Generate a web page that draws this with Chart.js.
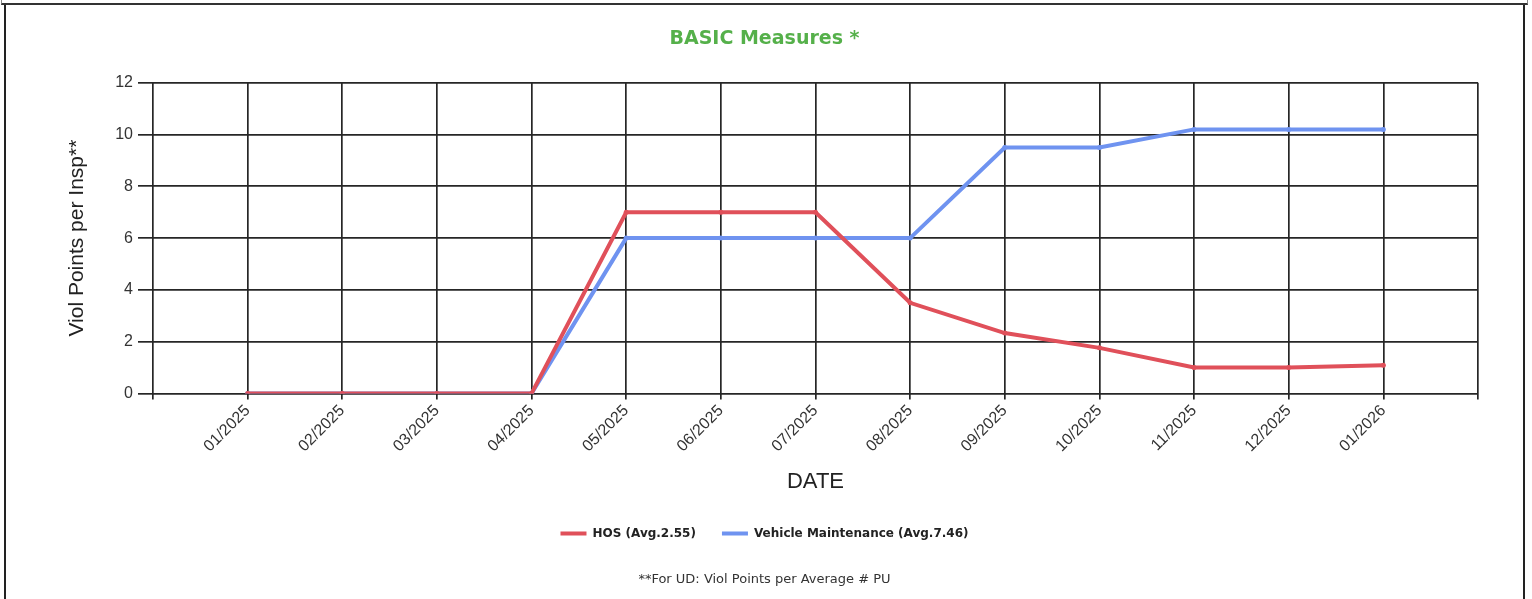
<!DOCTYPE html>
<html lang="en">
<head>
  <meta charset="UTF-8" />
  <title>BASIC Measures</title>
  <script src="https://cdn.jsdelivr.net/npm/chart.js"></script>
  <style>
    html, body {
      margin: 0;
      padding: 0;
      background: #ffffff;
      width: 1532px;
      height: 599px;
      overflow: hidden;
    }

    #topbar {
      position: absolute;
      left: 1px;
      top: 0;
      width: 1525px;
      height: 3px;
      border-left: 1px solid #888;
      border-right: 1px solid #888;
      border-bottom: 2px solid #333;
    }

    #frame {
      position: absolute;
      left: 4px;
      top: 5px;
      width: 1517px;
      height: 640px;
      border-left: 2px solid #222;
      border-right: 2px solid #222;
    }

    #chart-box {
      position: absolute;
      left: 5px;
      top: 5px;
      width: 1519px;
      height: 594px;
    }
  </style>
</head>
<body>
  <div id="topbar"></div>
  <div id="frame"></div>
  <div id="chart-box">
    <canvas id="basicChart"></canvas>
  </div>

  <script>
    // first and last slots are empty, like the original
    const months = ['', '01/2025', '02/2025', '03/2025', '04/2025', '05/2025', '06/2025',
      '07/2025', '08/2025', '09/2025', '10/2025', '11/2025', '12/2025', '01/2026', ''];
    const hosValues = [null, 0, 0, 0, 0, 7, 7, 7, 3.5, 2.33, 1.76, 1.0, 1.0, 1.09, null];
    const vmValues = [null, 0, 0, 0, 0, 6, 6, 6, 6, 9.5, 9.5, 10.2, 10.2, 10.2, null];
    const seriesNames = ['HOS (Avg.2.55)', 'Vehicle Maintenance (Avg.7.46)'];

    const arial = "'Liberation Sans', Arial, sans-serif";
    const tahoma = "'DejaVu Sans', Verdana, sans-serif";
    const tickFont = { family: arial, size: 16 };
    const gridColor = '#262626';

    const ctx = document.getElementById('basicChart').getContext('2d');

    new Chart(ctx, {
      type: 'line',
      data: {
        labels: months,
        datasets: [
          {
            label: seriesNames[0],
            data: hosValues,
            borderColor: '#e0505a',
            backgroundColor: '#e0505a',
            borderWidth: 4,
            pointRadius: 2.5,
            pointBorderWidth: 0,
            tension: 0
          },
          {
            label: seriesNames[1],
            data: vmValues,
            borderColor: '#6f93f0',
            backgroundColor: '#6f93f0',
            borderWidth: 4,
            pointRadius: 2.5,
            pointBorderWidth: 0,
            tension: 0
          }
        ]
      },
      options: {
        responsive: true,
        maintainAspectRatio: false,
        animation: false,
        layout: {
          padding: 0
        },
        plugins: {
          title: {
            display: true,
            text: 'BASIC Measures *',
            color: '#55b04a',
            font: { family: tahoma, size: 19, weight: 'bold' },
            padding: { top: 23, bottom: 32 }
          },
          legend: {
            display: true,
            position: 'bottom',
            labels: {
              boxWidth: 26,
              boxHeight: 4,
              padding: 26,
              color: '#222',
              font: { family: tahoma, size: 12, weight: 'bold' },
              generateLabels: chart => Chart.defaults.plugins.legend.labels.generateLabels(chart)
                .map(item => ({ ...item, lineWidth: 0 }))
            }
          },
          subtitle: {
            display: true,
            position: 'bottom',
            text: '**For UD: Viol Points per Average # PU',
            color: '#333',
            font: { family: tahoma, size: 13 },
            padding: { top: 22, bottom: 12 }
          },
          tooltip: { enabled: false }
        },
        scales: {
          x: {
            type: 'category',
            offset: false,
            grid: {
              color: gridColor,
              lineWidth: 1.7,
              tickLength: 6,
              drawTicks: true
            },
            border: { display: false },
            ticks: {
              autoSkip: false,
              maxRotation: 45,
              minRotation: 45,
              padding: 2,
              color: '#333',
              font: tickFont
            },
            title: {
              display: true,
              text: 'DATE',
              color: '#222',
              font: { family: arial, size: 22 },
              padding: { top: 4, bottom: 6 }
            },
            afterFit: scale => { scale.height = 108; }
          },
          y: {
            min: 0,
            max: 12,
            grid: {
              color: gridColor,
              lineWidth: 1.7,
              tickLength: 15
            },
            border: { display: false },
            ticks: {
              stepSize: 2,
              padding: 5,
              color: '#333',
              font: tickFont
            },
            title: {
              display: true,
              text: 'Viol Points per Insp**',
              color: '#222',
              font: { family: arial, size: 21 },
              padding: { top: 60, bottom: 0 }
            },
            afterFit: scale => { scale.width = 148; }
          },
          // empty right-hand axis, only reserves the gap right of the plot
          yRight: {
            position: 'right',
            display: true,
            min: 0,
            max: 12,
            grid: { display: false },
            border: { display: false },
            ticks: { display: false },
            afterFit: scale => { scale.width = 46; }
          }
        }
      }
    });
  </script>
</body>
</html>
